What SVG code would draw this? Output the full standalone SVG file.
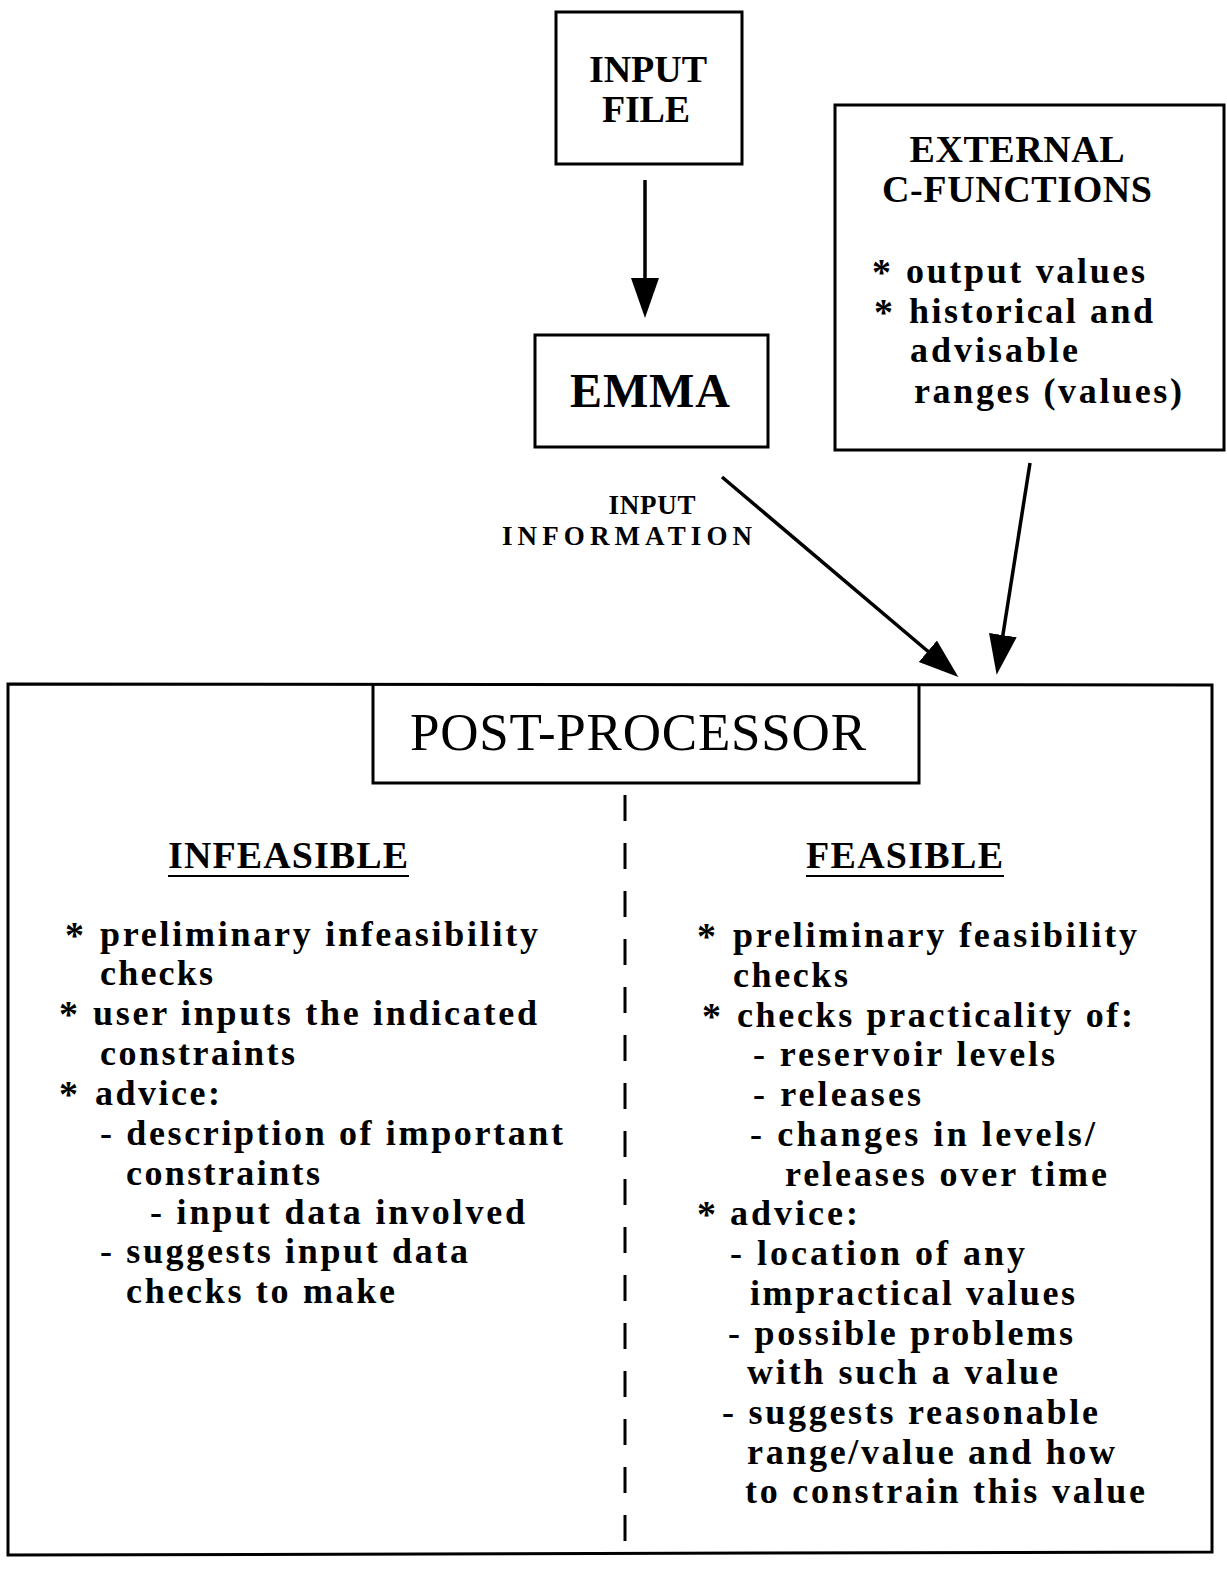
<svg xmlns="http://www.w3.org/2000/svg" width="1227" height="1571" viewBox="0 0 1227 1571">
  <style>
    .box { fill: none; stroke: #000; stroke-width: 3; }
    .conn { stroke: #000; stroke-width: 3.5; fill: none; }
    .head { font-family: "Liberation Serif", "Times New Roman", serif; font-weight: bold; fill: #000; }
    .body { font-family: "Liberation Serif", "Times New Roman", serif; font-weight: bold; font-size: 36px; fill: #000; }
    .star { font-family: "Liberation Serif", "Times New Roman", serif; font-weight: bold; font-size: 38px; fill: #000; }
    .title { font-family: "Liberation Serif", "Times New Roman", serif; font-size: 53px; fill: #000; }
  </style>
  <defs>
    <marker id="arrow" markerUnits="userSpaceOnUse" markerWidth="42" markerHeight="30" refX="12" refY="14" orient="auto">
      <path d="M0,0 L40,14 L0,28 z" fill="#000"/>
    </marker>
  </defs>
  <rect width="1227" height="1571" fill="#fff"/>

  <!-- input file -->
  <g id="input-file">
    <rect class="box" x="556" y="12" width="186" height="152"/>
    <text class="head" font-size="38" x="648" y="82" text-anchor="middle" textLength="118" lengthAdjust="spacing">INPUT</text>
    <text class="head" font-size="38" x="646" y="122" text-anchor="middle" textLength="88" lengthAdjust="spacing">FILE</text>
  </g>

  <!-- EMMA model -->
  <g id="emma">
    <rect class="box" x="535" y="335" width="233" height="112"/>
    <text class="head" font-size="48" x="650" y="407" text-anchor="middle" textLength="160" lengthAdjust="spacing">EMMA</text>
  </g>

  <!-- external C functions -->
  <g id="external-c-functions">
    <rect class="box" x="835" y="105" width="389" height="345"/>
    <text class="head" font-size="38" x="1017" y="162" text-anchor="middle" textLength="215" lengthAdjust="spacing">EXTERNAL</text>
    <text class="head" font-size="38" x="1017" y="202" text-anchor="middle" textLength="270" lengthAdjust="spacing">C-FUNCTIONS</text>
    <text class="star" x="872" y="285">*</text>
    <text class="body" x="906" y="283" textLength="239" lengthAdjust="spacing">output values</text>
    <text class="star" x="874" y="325">*</text>
    <text class="body" x="909" y="323" textLength="244" lengthAdjust="spacing">historical and</text>
    <text class="body" x="910" y="362" textLength="168" lengthAdjust="spacing">advisable</text>
    <text class="body" x="914" y="403" textLength="268" lengthAdjust="spacing">ranges (values)</text>
  </g>

  <!-- connectors -->
  <g id="connectors">
    <line class="conn" x1="645" y1="180" x2="645" y2="290" marker-end="url(#arrow)"/>
    <line class="conn" x1="722" y1="477" x2="937" y2="659" marker-end="url(#arrow)"/>
    <line class="conn" x1="1030" y1="463" x2="1001" y2="647" marker-end="url(#arrow)"/>
    <text class="head" font-size="27" x="652" y="514" text-anchor="middle" textLength="87" lengthAdjust="spacing">INPUT</text>
    <text class="head" font-size="27" x="627" y="545" text-anchor="middle" textLength="250" lengthAdjust="spacing">INFORMATION</text>
  </g>

  <!-- post-processor -->
  <g id="post-processor">
    <path class="box" d="M8,684 L1212,685 L1212,1552 L8,1555 Z" stroke-width="3.5"/>
    <path class="box" d="M373,684 L373,783 L919,783 L919,685"/>
    <text class="title" x="638" y="750" text-anchor="middle" textLength="456" lengthAdjust="spacing">POST-PROCESSOR</text>
    <line x1="625" y1="795" x2="625" y2="1542" stroke="#000" stroke-width="3" stroke-dasharray="26 22"/>
  </g>

  <!-- infeasible branch -->
  <g id="infeasible">
    <text class="head" font-size="38" x="168" y="868" textLength="240" lengthAdjust="spacing">INFEASIBLE</text>
    <line x1="168" y1="876" x2="409" y2="876" stroke="#000" stroke-width="2"/>
    <text class="star" x="65" y="948">*</text>
    <text class="body" x="100" y="946" textLength="438" lengthAdjust="spacing">preliminary infeasibility</text>
    <text class="body" x="100" y="985" textLength="113" lengthAdjust="spacing">checks</text>
    <text class="star" x="59" y="1027">*</text>
    <text class="body" x="93" y="1025" textLength="444" lengthAdjust="spacing">user inputs the indicated</text>
    <text class="body" x="100" y="1065" textLength="195" lengthAdjust="spacing">constraints</text>
    <text class="star" x="59" y="1107">*</text>
    <text class="body" x="95" y="1105" textLength="125" lengthAdjust="spacing">advice:</text>
    <text class="body" x="100" y="1145" textLength="463" lengthAdjust="spacing">- description of important</text>
    <text class="body" x="126" y="1185" textLength="194" lengthAdjust="spacing">constraints</text>
    <text class="body" x="150" y="1224" textLength="375" lengthAdjust="spacing">- input data involved</text>
    <text class="body" x="100" y="1263" textLength="368" lengthAdjust="spacing">- suggests input data</text>
    <text class="body" x="126" y="1303" textLength="269" lengthAdjust="spacing">checks to make</text>
  </g>

  <!-- feasible branch -->
  <g id="feasible">
    <text class="head" font-size="38" x="806" y="868" textLength="197" lengthAdjust="spacing">FEASIBLE</text>
    <line x1="806" y1="876" x2="1004" y2="876" stroke="#000" stroke-width="2"/>
    <text class="star" x="697" y="949">*</text>
    <text class="body" x="733" y="947" textLength="404" lengthAdjust="spacing">preliminary feasibility</text>
    <text class="body" x="733" y="987" textLength="115" lengthAdjust="spacing">checks</text>
    <text class="star" x="702" y="1029">*</text>
    <text class="body" x="737" y="1027" textLength="396" lengthAdjust="spacing">checks practicality of:</text>
    <text class="body" x="753" y="1066" textLength="302" lengthAdjust="spacing">- reservoir levels</text>
    <text class="body" x="753" y="1106" textLength="168" lengthAdjust="spacing">- releases</text>
    <text class="body" x="750" y="1146" textLength="345" lengthAdjust="spacing">- changes in levels/</text>
    <text class="body" x="785" y="1186" textLength="322" lengthAdjust="spacing">releases over time</text>
    <text class="star" x="697" y="1227">*</text>
    <text class="body" x="730" y="1225" textLength="128" lengthAdjust="spacing">advice:</text>
    <text class="body" x="730" y="1265" textLength="295" lengthAdjust="spacing">- location of any</text>
    <text class="body" x="750" y="1305" textLength="325" lengthAdjust="spacing">impractical values</text>
    <text class="body" x="728" y="1345" textLength="345" lengthAdjust="spacing">- possible problems</text>
    <text class="body" x="747" y="1384" textLength="311" lengthAdjust="spacing">with such a value</text>
    <text class="body" x="722" y="1424" textLength="376" lengthAdjust="spacing">- suggests reasonable</text>
    <text class="body" x="747" y="1464" textLength="368" lengthAdjust="spacing">range/value and how</text>
    <text class="body" x="745" y="1503" textLength="400" lengthAdjust="spacing">to constrain this value</text>
  </g>
</svg>
